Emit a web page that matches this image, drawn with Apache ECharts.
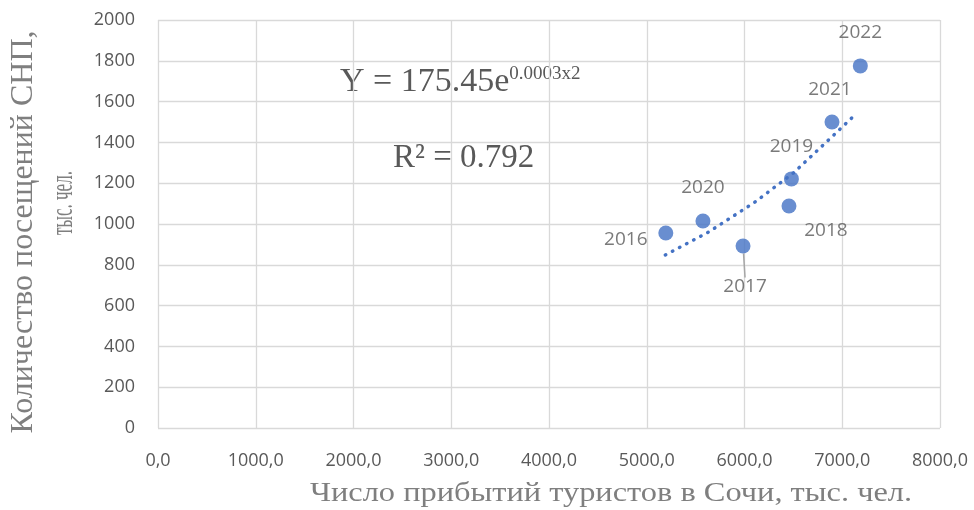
<!DOCTYPE html>
<html><head><meta charset="utf-8">
<script src="https://cdn.jsdelivr.net/npm/echarts@6/dist/echarts.min.js"></script>
<style>html,body{margin:0;padding:0;background:#fff}#c{width:974px;height:510px}</style>
</head><body><div id="c"></div>
<script>
const years = ['2016','2017','2018','2019','2020','2021','2022'];
const arrivals = [5195, 5985, 6455, 6480, 5575, 6895, 7185];
const visits = [956, 892, 1088, 1221, 1015, 1500, 1775];
const trendX = [5190, 5630, 6100, 6500, 6900, 7150];
const trendY = [848, 960, 1105, 1250, 1430, 1544];
const labelOffsets = {
  '2016': [-40, 7], '2017': [2, 41], '2018': [37, 25], '2019': [0, -32],
  '2020': [0, -33], '2021': [-2, -32], '2022': [0, -33]
};
const xTitle = 'Число прибытий туристов в Сочи, тыс. чел.';
const yTitle1 = 'Количество посещений СНП,';
const yTitle2 = 'тыс. чел.';

const chart = echarts.init(document.getElementById('c'));
const pts = years.map((y, i) => ({
  name: y, value: [arrivals[i], visits[i]],
  labelLine: { show: y === '2017' }
}));
chart.setOption({
  animation: false,
  grid: { left: 158, right: 34, top: 20, bottom: 82 },
  xAxis: {
    type: 'value', min: 0, max: 8000, interval: 1000,
    axisLine: { show: false }, axisTick: { show: false },
    splitLine: { lineStyle: { color: '#d9d9d9', width: 1.3 } },
    axisLabel: { color: '#595959', fontSize: 18, fontFamily: 'Open Sans', margin: 24,
      formatter: v => v.toFixed(1).replace('.', ',') }
  },
  yAxis: {
    type: 'value', min: 0, max: 2000, interval: 200,
    axisLine: { show: false }, axisTick: { show: false },
    splitLine: { lineStyle: { color: '#d9d9d9', width: 1.3 } },
    axisLabel: { color: '#595959', fontSize: 18, fontFamily: 'Open Sans', margin: 23,
      formatter: v => String(v) }
  },
  series: [
    {
      type: 'line', data: trendX.map((x, i) => [x, trendY[i]]), smooth: false,
      symbol: 'none', lineStyle: { color: '#4472c4', width: 3.5, type: [0.5, 7.5], cap: 'round' },
      z: 1
    },
    {
      type: 'scatter', data: pts, symbolSize: 15,
      itemStyle: { color: '#4472c4' },
      label: { show: true, position: 'inside', formatter: p => p.name,
        color: '#595959', fontSize: 19, fontFamily: 'Open Sans' },
      labelLayout: p => {
        const o = labelOffsets[years[p.dataIndex]];
        return { dx: o[0], dy: o[1] };
      },
      labelLine: { show: false, lineStyle: { color: '#a6a6a6', width: 1.5 } },
      z: 3
    }
  ],
  graphic: [
    { type: 'text', left: 340, top: 65, style: {
      text: '{m|Y = 175.45e}{s|0.0003x2}',
      rich: {
        m: { fontSize: 34, fontFamily: 'Liberation Serif', fill: '#595959', verticalAlign: 'bottom' },
        s: { fontSize: 19, fontFamily: 'Liberation Serif', fill: '#595959', verticalAlign: 'top', padding: [0, 0, 14, 0] }
      } } },
    { type: 'text', left: 393, top: 142, style: {
      text: 'R² = 0.792', fontSize: 33, fontFamily: 'Liberation Serif', fill: '#595959' } },
    { type: 'text', x: 611, y: 494, scaleX: 1.2, scaleY: 1, style: {
      text: xTitle, fontSize: 27, fontFamily: 'Liberation Serif', fill: '#7f7f7f',
      align: 'center', verticalAlign: 'middle' } },
    { type: 'text', x: 24, y: 232, rotation: Math.PI / 2, style: {
      text: yTitle1, fontSize: 32, fontFamily: 'Liberation Serif', fill: '#7f7f7f',
      align: 'center', verticalAlign: 'middle' } },
    { type: 'text', x: 64, y: 203, rotation: Math.PI / 2, scaleX: 0.55, scaleY: 1, style: {
      text: yTitle2, fontSize: 31, fontFamily: 'Liberation Serif', fill: '#7f7f7f',
      align: 'center', verticalAlign: 'middle' } }
  ]
});
</script></body></html>
